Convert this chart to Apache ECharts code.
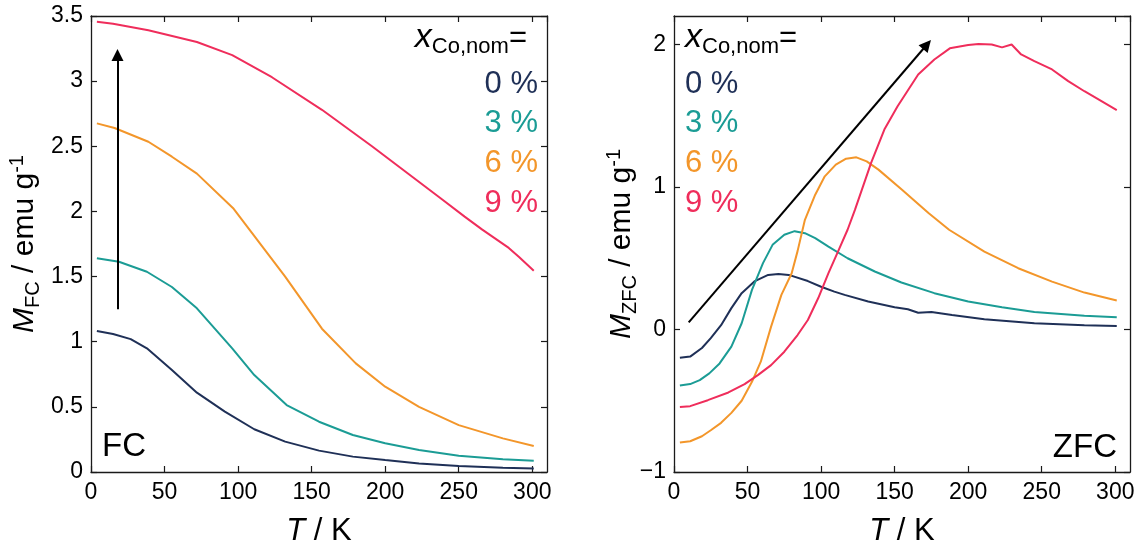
<!DOCTYPE html>
<html>
<head>
<meta charset="utf-8">
<script src="https://cdn.jsdelivr.net/npm/echarts@6/dist/echarts.min.js"></script>
<style>
  html, body { margin: 0; padding: 0; background: #fff; }
  #chart { width: 1145px; height: 552px; }
</style>
</head>
<body>
<div id="chart"></div>
<script>
// Field-cooled magnetisation M_FC (emu/g) vs temperature T (K)
const fcT0 = [4, 15, 27, 38, 55, 72, 91, 111, 132, 155, 178, 200, 223, 250, 280, 301];
const fc0  = [1.082, 1.059, 1.02, 0.949, 0.783, 0.609, 0.463, 0.328, 0.233, 0.164, 0.118, 0.092, 0.066, 0.046, 0.033, 0.026];
const fcT3 = [4, 19, 38, 55, 72, 87, 96, 111, 133, 155, 178, 200, 223, 250, 280, 301];
const fc3  = [1.64, 1.614, 1.537, 1.42, 1.256, 1.064, 0.949, 0.744, 0.514, 0.386, 0.284, 0.22, 0.169, 0.125, 0.097, 0.087];
const fcT6 = [4, 16, 39, 55, 72, 97, 132, 157, 180, 200, 223, 250, 280, 301];
const fc6  = [2.676, 2.64, 2.535, 2.42, 2.29, 2.02, 1.5, 1.1, 0.834, 0.655, 0.5, 0.36, 0.258, 0.2];
const fcT9 = [4, 15, 39, 72, 96, 123, 157, 191, 239, 254, 266, 284, 291, 301];
const fc9  = [3.456, 3.44, 3.39, 3.3, 3.2, 3.03, 2.78, 2.5, 2.09, 1.96, 1.86, 1.72, 1.65, 1.545];

// Zero-field-cooled magnetisation M_ZFC (emu/g) vs temperature T (K)
const zfcT0 = [4, 11, 19, 25, 32, 39, 46, 55, 64, 71, 78, 91, 100, 109, 116, 132, 150, 159, 166, 175, 189, 211, 245, 279, 301];
const zfc0  = [-0.198, -0.19, -0.13, -0.06, 0.03, 0.15, 0.255, 0.34, 0.383, 0.39, 0.383, 0.34, 0.3, 0.266, 0.243, 0.196, 0.156, 0.142, 0.118, 0.123, 0.102, 0.072, 0.044, 0.029, 0.025];
const zfcT3 = [4, 11, 17.5, 24, 31, 39, 46, 53, 60.5, 67, 75, 82, 89, 96, 105, 118, 136.5, 154.6, 177, 200, 223, 245, 279, 301];
const zfc3  = [-0.393, -0.383, -0.355, -0.308, -0.238, -0.12, 0.044, 0.278, 0.466, 0.594, 0.665, 0.69, 0.676, 0.641, 0.582, 0.5, 0.407, 0.33, 0.255, 0.196, 0.156, 0.123, 0.097, 0.086];
const zfcT6 = [4, 11, 19, 25, 32, 39, 46, 53, 59, 66, 73, 80, 84, 89, 96, 102.5, 110, 117, 124, 131, 139, 155, 173, 187, 211, 234, 257, 279, 301];
const zfc6  = [-0.793, -0.784, -0.749, -0.707, -0.655, -0.585, -0.5, -0.367, -0.226, 0.02, 0.243, 0.395, 0.55, 0.77, 0.946, 1.075, 1.157, 1.199, 1.208, 1.18, 1.122, 0.981, 0.817, 0.7, 0.547, 0.43, 0.336, 0.259, 0.203];
const zfcT9 = [4, 11, 23, 37, 48, 57, 66, 75, 84, 91, 98, 105, 112, 118, 123, 134, 143, 152, 166, 177, 187.5, 200, 207, 216, 223, 229.5, 236, 245, 257, 268, 279, 288, 301];
const zfc9  = [-0.543, -0.538, -0.496, -0.442, -0.383, -0.32, -0.25, -0.156, -0.039, 0.067, 0.219, 0.395, 0.559, 0.7, 0.84, 1.169, 1.403, 1.567, 1.79, 1.895, 1.973, 1.996, 2.003, 2.0, 1.98, 2.0, 1.93, 1.883, 1.825, 1.743, 1.672, 1.619, 1.539];

// Trend arrows (start, end) in data units
const arrowFC  = [[18, 1.25], [18, 3.2]];
const arrowZFC = [[10, 0.05], [172, 2.0]];

// Legend labels and tick settings
const legendLabels = ['0 %', '3 %', '6 %', '9 %'];
const colors = ['#1f3057', '#1b9c95', '#f3962a', '#ef2d5b'];
const xTicks = { min: 0, max: 310, interval: 50, showMax: false };
const yTicksFC = { min: 0, max: 3.5, interval: 0.5, showMax: true };
const yTicksZFC = { min: -1, max: 2.2, interval: 1, showMax: false };

const FONT = "'Liberation Sans', Arial, Helvetica, sans-serif";
const FRAME = '#1a1a1a';

function zip(xs, ys) { return xs.map((x, i) => [x, ys[i]]); }

function xAxis(grid, pos) {
  return {
    type: 'value', gridIndex: grid, position: pos,
    min: xTicks.min, max: xTicks.max, interval: xTicks.interval,
    axisLine: { show: true, onZero: false, lineStyle: { color: FRAME, width: 1.3 } },
    axisTick: { show: true, inside: true, length: 6, lineStyle: { color: FRAME, width: 1.2 } },
    axisLabel: { show: pos === 'bottom', fontSize: 23, color: '#000', fontFamily: FONT, margin: 9, showMaxLabel: xTicks.showMax },
    splitLine: { show: false }
  };
}
function yAxis(grid, pos, t) {
  return {
    type: 'value', gridIndex: grid, position: pos,
    min: t.min, max: t.max, interval: t.interval,
    axisLine: { show: true, onZero: false, lineStyle: { color: FRAME, width: 1.3 } },
    axisTick: { show: true, inside: true, length: 6, lineStyle: { color: FRAME, width: 1.2 } },
    axisLabel: {
      show: pos === 'left', fontSize: 23, color: '#000', fontFamily: FONT, margin: 8, showMaxLabel: t.showMax,
      formatter: v => (v < 0 ? '\u2212' + Math.abs(v) : String(v))
    },
    splitLine: { show: false }
  };
}

function curve(grid, xs, ys, color) {
  return {
    type: 'line', xAxisIndex: grid * 2, yAxisIndex: grid * 2,
    data: zip(xs, ys), showSymbol: false, symbol: 'none', smooth: false,
    lineStyle: { color: color, width: 2 }, silent: true, z: 3
  };
}
function arrow(grid, pts) {
  return {
    type: 'lines', coordinateSystem: 'cartesian2d', xAxisIndex: grid * 2, yAxisIndex: grid * 2,
    data: [{ coords: pts }], symbol: ['none', 'triangle'], symbolSize: 12,
    lineStyle: { color: '#000', width: 2, opacity: 1 }, silent: true, z: 4
  };
}

function text(x, y, str, opts) {
  return Object.assign({
    type: 'text', x: x, y: y, silent: true, z: 10,
    style: Object.assign({ text: str, fontFamily: FONT, fill: '#000' }, opts.style)
  }, opts.el || {});
}

const legendTitleRich = {
  x: { fontSize: 34, fontStyle: 'italic', fontFamily: FONT, fill: '#000', lineHeight: 40 },
  s: { fontSize: 22, fontFamily: FONT, fill: '#000', lineHeight: 24, verticalAlign: 'bottom' },
  e: { fontSize: 31, fontFamily: FONT, fill: '#000', lineHeight: 40 }
};
const yTitleRich = {
  m: { fontSize: 30, fontStyle: 'italic', fontFamily: FONT, fill: '#000', lineHeight: 36 },
  s: { fontSize: 20, fontFamily: FONT, fill: '#000', lineHeight: 22, verticalAlign: 'bottom' },
  n: { fontSize: 30, fontFamily: FONT, fill: '#000', lineHeight: 36 },
  p: { fontSize: 20, fontFamily: FONT, fill: '#000', lineHeight: 24, verticalAlign: 'top' }
};
const xTitleRich = {
  i: { fontSize: 31, fontStyle: 'italic', fontFamily: FONT, fill: '#000' },
  n: { fontSize: 31, fontFamily: FONT, fill: '#000' }
};

const legendY = [84, 123.5, 163.5, 203];
const graphics = [];
// legends
graphics.push(text(527, 38, '{x|x}{s|Co,nom}{e|=}', { style: { align: 'right', verticalAlign: 'middle', rich: legendTitleRich } }));
graphics.push(text(685, 38, '{x|x}{s|Co,nom}{e|=}', { style: { align: 'left', verticalAlign: 'middle', rich: legendTitleRich } }));
legendLabels.forEach((lab, i) => {
  graphics.push(text(538, legendY[i], lab, { style: { fontSize: 31, fill: colors[i], align: 'right', verticalAlign: 'middle' } }));
  graphics.push(text(685, legendY[i], lab, { style: { fontSize: 31, fill: colors[i], align: 'left', verticalAlign: 'middle' } }));
});
// panel tags
graphics.push(text(102, 447, 'FC', { style: { fontSize: 33, align: 'left', verticalAlign: 'middle' } }));
graphics.push(text(1117, 448, 'ZFC', { style: { fontSize: 33, align: 'right', verticalAlign: 'middle' } }));
// axis titles
graphics.push(text(319, 531, '{i|T}{n| / K}', { style: { align: 'center', verticalAlign: 'middle', rich: xTitleRich } }));
graphics.push(text(902, 531, '{i|T}{n| / K}', { style: { align: 'center', verticalAlign: 'middle', rich: xTitleRich } }));
graphics.push(text(25, 244, '{m|M}{s|FC}{n| / emu g}{p|-1}', { style: { align: 'center', verticalAlign: 'middle', rich: yTitleRich }, el: { rotation: Math.PI / 2 } }));
graphics.push(text(622, 244, '{m|M}{s|ZFC}{n| / emu g}{p|-1}', { style: { align: 'center', verticalAlign: 'middle', rich: yTitleRich }, el: { rotation: Math.PI / 2 } }));

const chart = echarts.init(document.getElementById('chart'), null, { renderer: 'canvas' });
chart.setOption({
  animation: false,
  backgroundColor: '#fff',
  textStyle: { fontFamily: FONT },
  grid: [
    { left: 91, top: 16, width: 456, height: 456, containLabel: false, outerBoundsMode: 'none' },
    { left: 674, top: 16, width: 456, height: 456, containLabel: false, outerBoundsMode: 'none' }
  ],
  xAxis: [xAxis(0, 'bottom'), xAxis(0, 'top'), xAxis(1, 'bottom'), xAxis(1, 'top')],
  yAxis: [yAxis(0, 'left', yTicksFC), yAxis(0, 'right', yTicksFC), yAxis(1, 'left', yTicksZFC), yAxis(1, 'right', yTicksZFC)],
  series: [
    curve(0, fcT0, fc0, colors[0]),
    curve(0, fcT3, fc3, colors[1]),
    curve(0, fcT6, fc6, colors[2]),
    curve(0, fcT9, fc9, colors[3]),
    arrow(0, arrowFC),
    curve(1, zfcT0, zfc0, colors[0]),
    curve(1, zfcT3, zfc3, colors[1]),
    curve(1, zfcT6, zfc6, colors[2]),
    curve(1, zfcT9, zfc9, colors[3]),
    arrow(1, arrowZFC)
  ],
  graphic: graphics
});
</script>
</body>
</html>
